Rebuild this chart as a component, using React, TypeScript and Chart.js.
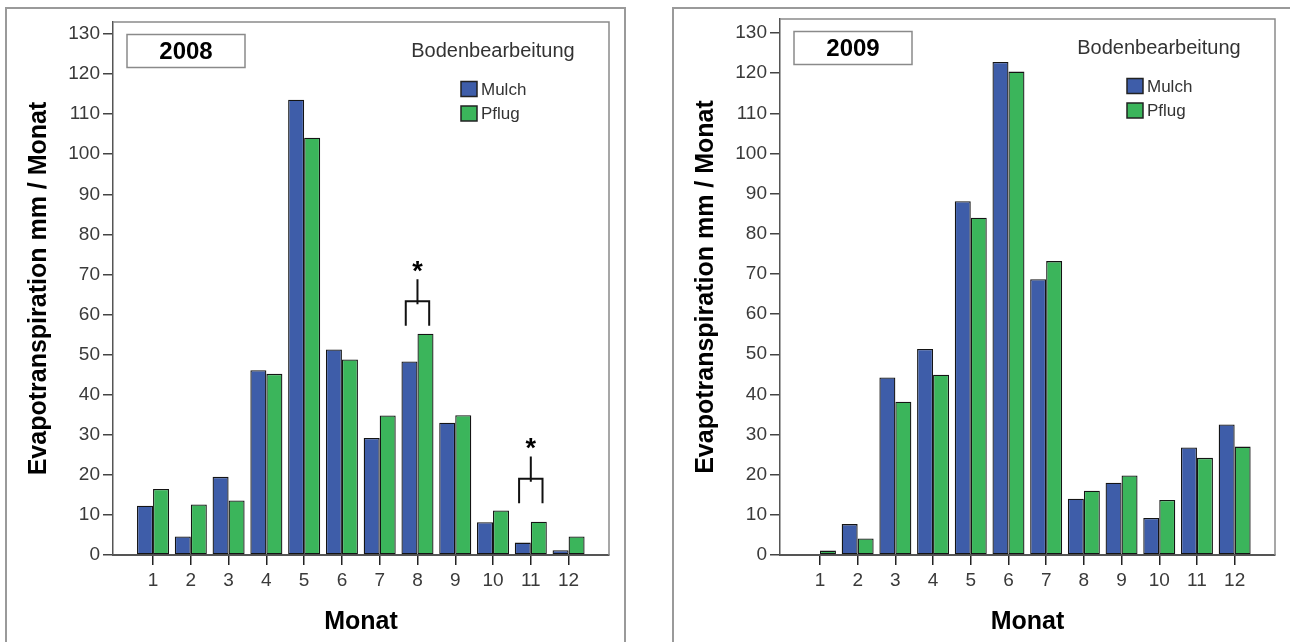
import React, { useEffect, useRef } from 'react';
import { Chart, registerables } from 'chart.js';

Chart.register(...registerables);

// ---------- data ----------
const months = [1, 2, 3, 4, 5, 6, 7, 8, 9, 10, 11, 12];
const yTicks = [0, 10, 20, 30, 40, 50, 60, 70, 80, 90, 100, 110, 120, 130];
const seriesNames = ['Mulch', 'Pflug'];
const legendTitle = 'Bodenbearbeitung';
const xTitle = 'Monat';
const yTitle = 'Evapotranspiration mm / Monat';

const years = ['2008', '2009'];
const mulch2008 = [12.3, 4.6, 19.5, 46.1, 113.6, 51.3, 29.2, 48.3, 33.0, 8.2, 3.1, 1.2];
const pflug2008 = [16.5, 12.6, 13.6, 45.2, 104.1, 48.8, 34.8, 55.2, 34.9, 11.1, 8.3, 4.6];
const mulch2009 = [0.2, 7.7, 44.2, 51.3, 88.1, 122.8, 68.7, 14.0, 18.0, 9.2, 26.8, 32.5];
const pflug2009 = [1.1, 4.1, 38.2, 44.9, 84.0, 120.4, 73.2, 16.0, 19.8, 13.7, 24.2, 27.0];

// significance brackets (2008)
const sigMonths2008 = [8, 11];
const sigLegLow2008 = [57.2, 12.9];
const sigBracket2008 = [63.3, 19.0];
const sigStemTop2008 = [68.8, 24.6];
const sigStar2008 = [72.0, 28.0];

// ---------- styling ----------
const FONT = "'Liberation Sans', Arial, Helvetica, sans-serif";
const BLUE = '#3E5DA9';
const GREEN = '#3BB55B';

type Sig = { months: number[]; low: number[]; bracket: number[]; stem: number[]; star: number[] } | null;

function makeConfig(mulch: number[], pflug: number[], year: string, yMax: number, padTop: number, padRight: number, sig: Sig): any {
  const framePlugin = {
    id: 'frame',
    beforeDatasetsDraw(chart: any) {
      const { ctx, chartArea: a } = chart;
      ctx.save();
      ctx.strokeStyle = '#8a8a8a';
      ctx.lineWidth = 1.5;
      ctx.beginPath();
      ctx.moveTo(a.left, a.top);
      ctx.lineTo(a.right, a.top);
      ctx.lineTo(a.right, a.bottom);
      ctx.stroke();
      ctx.restore();
    },
  };
  const overlayPlugin = {
    id: 'overlay',
    afterDraw(chart: any) {
      const { ctx, chartArea: a } = chart;
      ctx.save();
      // year box
      const bx = a.left + 14, by = a.top + 12.5, bw = 118, bh = 33;
      ctx.fillStyle = '#fff';
      ctx.fillRect(bx, by, bw, bh);
      ctx.strokeStyle = '#8a8a8a';
      ctx.lineWidth = 1.5;
      ctx.strokeRect(bx, by, bw, bh);
      ctx.fillStyle = '#000';
      ctx.font = `bold 24px ${FONT}`;
      ctx.textAlign = 'center';
      ctx.textBaseline = 'middle';
      ctx.fillText(year, bx + bw / 2, by + bh / 2 + 1);
      // legend
      ctx.fillStyle = '#333';
      ctx.font = `20px ${FONT}`;
      ctx.fillText(legendTitle, a.right - 116, a.top + 29);
      const boxL = a.right - 148;
      chart.data.datasets.forEach((ds: any, i: number) => {
        const cy = a.top + 67 + i * 24.5;
        ctx.fillStyle = ds.backgroundColor;
        ctx.fillRect(boxL, cy - 7.5, 16, 15);
        ctx.strokeStyle = '#222';
        ctx.lineWidth = 1.5;
        ctx.strokeRect(boxL, cy - 7.5, 16, 15);
        ctx.fillStyle = '#333';
        ctx.font = `17px ${FONT}`;
        ctx.textAlign = 'left';
        ctx.textBaseline = 'middle';
        ctx.fillText(ds.label, boxL + 20, cy + 1);
      });
      // significance brackets
      if (sig) {
        const xs = chart.scales.x, ys = chart.scales.y;
        ctx.strokeStyle = '#111';
        ctx.lineWidth = 2;
        sig.months.forEach((m, i) => {
          const xl = xs.getPixelForValue(m - 0.31);
          const xr = xs.getPixelForValue(m + 0.31);
          const xc = xs.getPixelForValue(m);
          const yl = ys.getPixelForValue(sig.low[i]);
          const yb = ys.getPixelForValue(sig.bracket[i]);
          const yt = ys.getPixelForValue(sig.stem[i]);
          ctx.beginPath();
          ctx.moveTo(xl, yl);
          ctx.lineTo(xl, yb);
          ctx.lineTo(xr, yb);
          ctx.lineTo(xr, yl);
          ctx.moveTo(xc, yb + 3);
          ctx.lineTo(xc, yt);
          ctx.stroke();
          ctx.fillStyle = '#000';
          ctx.font = `bold 27px ${FONT}`;
          ctx.textAlign = 'center';
          ctx.textBaseline = 'alphabetic';
          ctx.fillText('*', xc, ys.getPixelForValue(sig.star[i]) + 14);
        });
      }
      ctx.restore();
    },
  };

  const gridCommon = { drawOnChartArea: false, drawTicks: true, tickLength: 10, lineWidth: 1.5, offset: false };
  const barStyle = { borderColor: '#141414', borderWidth: 1.3, borderSkipped: false };
  return {
    type: 'bar',
    data: {
      datasets: [
        { label: seriesNames[0], data: months.map((m, i) => ({ x: m, y: mulch[i] })), backgroundColor: BLUE, ...barStyle },
        { label: seriesNames[1], data: months.map((m, i) => ({ x: m, y: pflug[i] })), backgroundColor: GREEN, ...barStyle },
      ],
    },
    options: {
      animation: false,
      responsive: false,
      maintainAspectRatio: false,
      categoryPercentage: 0.848,
      barPercentage: 1.0,
      layout: { padding: { top: padTop, right: padRight, left: 0, bottom: 0 } },
      plugins: { legend: { display: false }, tooltip: { enabled: false } },
      scales: {
        x: {
          type: 'linear',
          min: -0.06,
          max: 13.07,
          offset: false,
          afterBuildTicks: (s: any) => { s.ticks = months.map((v) => ({ value: v })); },
          afterFit: (s: any) => { s.height = 87; },
          grid: { ...gridCommon, color: '#222' },
          border: { display: true, color: '#555', width: 2 },
          ticks: { font: { size: 19, family: FONT }, color: '#3a3a3a', padding: 4, maxRotation: 0, autoSkip: false },
          title: { display: true, text: xTitle, color: '#000', font: { size: 25, weight: 'bold', family: FONT }, padding: { top: 0, bottom: 5 } },
        },
        y: {
          min: 0,
          max: yMax,
          afterBuildTicks: (s: any) => { s.ticks = yTicks.map((v) => ({ value: v })); },
          afterFit: (s: any) => { s.width = 113; },
          grid: { ...gridCommon, color: '#444' },
          border: { display: true, color: '#555', width: 1.5 },
          ticks: { font: { size: 19, family: FONT }, color: '#3a3a3a', padding: 3 },
          title: { display: true, text: yTitle, color: '#000', font: { size: 25, weight: 'bold', family: FONT }, padding: { top: 24, bottom: 0 } },
        },
      },
    },
    plugins: [framePlugin, overlayPlugin],
  };
}

function Panel(props: { left: number; width: number; cfg: () => any }) {
  const ref = useRef<HTMLCanvasElement>(null);
  useEffect(() => {
    const chart = new Chart(ref.current as HTMLCanvasElement, props.cfg());
    return () => chart.destroy();
  }, []);
  return (
    <canvas
      ref={ref}
      width={props.width}
      height={642}
      style={{ position: 'absolute', left: props.left, top: 0, width: props.width, height: 642 }}
    />
  );
}

export default function App() {
  const frame = (left: number, width: number) => ({
    position: 'absolute' as const,
    left,
    top: 7,
    width,
    height: 700,
    border: '2px solid #9a9a9a',
    boxSizing: 'border-box' as const,
  });
  return (
    <div style={{ position: 'absolute', left: 0, top: 0, width: 1290, height: 642, overflow: 'hidden', background: '#fff' }}>
      <div style={frame(5, 621)} />
      <div style={frame(672, 700)} />
      <Panel
        left={0}
        width={650}
        cfg={() =>
          makeConfig(mulch2008, pflug2008, years[0], 133.0, 22, 41, {
            months: sigMonths2008,
            low: sigLegLow2008,
            bracket: sigBracket2008,
            stem: sigStemTop2008,
            star: sigStar2008,
          })
        }
      />
      <Panel left={667} width={623} cfg={() => makeConfig(mulch2009, pflug2009, years[1], 133.5, 19, 15, null)} />
    </div>
  );
}
